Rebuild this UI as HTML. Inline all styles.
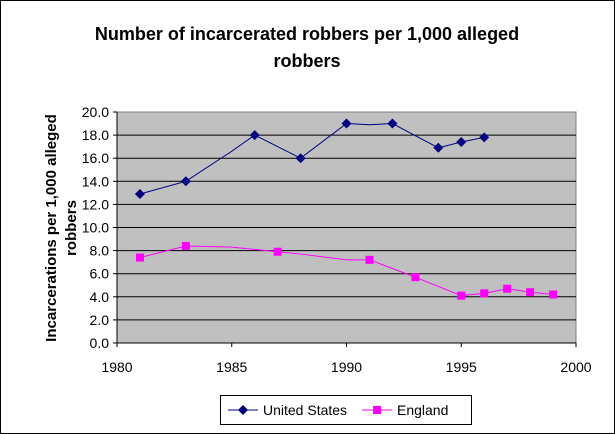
<!DOCTYPE html>
<html><head><meta charset="utf-8"><style>
body{margin:0;background:#fff;}
svg{display:block;font-family:"Liberation Sans",Arial,sans-serif;}
</style></head><body>
<svg id="chart" width="615" height="434" viewBox="0 0 615 434">
<rect x="0.5" y="0.5" width="614" height="433" fill="#fff" stroke="#000"/>
<text x="307" y="40" text-anchor="middle" font-size="18" font-weight="bold">Number of incarcerated robbers per 1,000 alleged</text>
<text x="307" y="67" text-anchor="middle" font-size="18" font-weight="bold">robbers</text>
<text transform="translate(66,228) rotate(-90)" text-anchor="middle" font-size="15" font-weight="bold"><tspan x="0" y="-10">Incarcerations per 1,000 alleged</tspan><tspan x="0" y="10">robbers</tspan></text>
<rect x="117" y="112" width="459" height="231" fill="#c0c0c0" stroke="#808080"/>
<g id="grid"></g><g id="axes"></g><g id="series"></g>
<g>
<rect x="220.5" y="395.5" width="251" height="29" fill="#fff" stroke="#000"/>
<line x1="228" y1="410" x2="258" y2="410" stroke="#000080"/>
<path d="M243 405 L248 410 L243 415 L238 410Z" fill="#000080"/>
<text x="263" y="415" font-size="14">United States</text>
<line x1="362" y1="410" x2="392" y2="410" stroke="#ff00ff"/>
<rect x="373" y="406" width="8" height="8" fill="#ff00ff"/>
<text x="397" y="415" font-size="14">England</text>
</g>
</svg>
<script>
const yTicks=[0,2,4,6,8,10,12,14,16,18,20];
const xTicks=[1980,1985,1990,1995,2000];
const usYears=[1981,1983,1985,1986,1988,1990,1991,1992,1994,1995,1996];
const usValues=[12.9,14.0,16.6,18.0,16.0,19.0,18.9,19.0,16.9,17.4,17.8];
const usMarked=[1,1,0,1,1,1,0,1,1,1,1];
const enYears=[1981,1983,1985,1987,1988,1990,1991,1993,1994,1995,1996,1997,1998,1999];
const enValues=[7.4,8.4,8.3,7.9,7.7,7.2,7.2,5.7,4.9,4.1,4.3,4.7,4.4,4.2];
const enMarked=[1,1,0,1,0,0,1,1,0,1,1,1,1,1];
const NS="http://www.w3.org/2000/svg";
const X=v=>117+(v-1980)*(459/20);
const Y=v=>343-v*(231/20);
function mk(tag,attrs,parent){const e=document.createElementNS(NS,tag);for(const k in attrs)e.setAttribute(k,attrs[k]);document.getElementById(parent).appendChild(e);return e;}
yTicks.forEach(t=>{
 if(t>0&&t<20){const g=mk('line',{x1:117,x2:576,y1:Y(t),y2:Y(t),stroke:'#000'},'grid');
 
 }
 const tk=mk('line',{x1:113,x2:117,y1:Y(t),y2:Y(t),stroke:'#000'},'axes');
 
 
 const l=mk('text',{x:109,y:Y(t)+5,'text-anchor':'end','font-size':14},'axes');l.textContent=t.toFixed(1);
 
 
});
xTicks.forEach(t=>{
 const tk=mk('line',{x1:X(t),x2:X(t),y1:343,y2:347,stroke:'#000'},'axes');
 
 
 const l=mk('text',{x:X(t),y:372,'text-anchor':'middle','font-size':14},'axes');l.textContent=t;
 
 
});
const ax=mk('line',{x1:117,x2:576,y1:343,y2:343,stroke:'#000'},'axes');


const ay=mk('line',{x1:117,x2:117,y1:112,y2:343,stroke:'#000'},'axes');


function series(years,vals,marked,color,shape,name){
 const p=mk('polyline',{points:years.map((y,i)=>X(y)+','+Y(vals[i])).join(' '),fill:'none',stroke:color,'stroke-width':1},'series');
 
 
 years.forEach((y,i)=>{if(!marked[i])return;const cx=X(y),cy=Y(vals[i]);let m;
  if(shape==='d')m=mk('path',{d:`M${cx} ${cy-5}L${cx+5} ${cy}L${cx} ${cy+5}L${cx-5} ${cy}Z`,fill:color},'series');
  else m=mk('rect',{x:cx-4,y:cy-4,width:8,height:8,fill:color},'series');
  
  
 });
}
series(usYears,usValues,usMarked,'#000080','d','us');
series(enYears,enValues,enMarked,'#ff00ff','s','england');
</script>
</body></html>
